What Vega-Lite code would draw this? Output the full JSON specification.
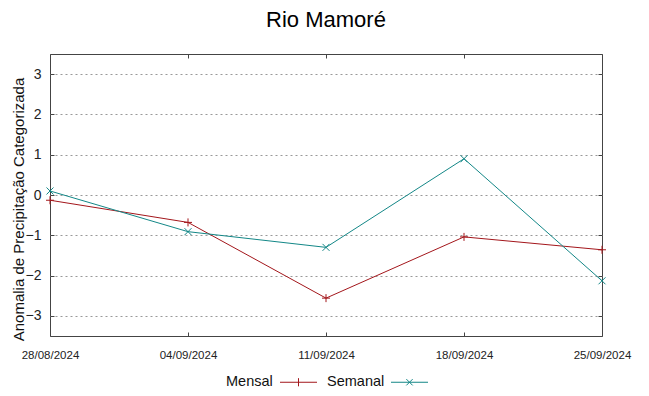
{
  "$schema": "https://vega.github.io/schema/vega-lite/v6.json",
  "width": 552,
  "height": 282,
  "autosize": {"type": "none"},
  "padding": {"left": 50, "top": 54, "right": 47, "bottom": 60},
  "background": "white",
  "config": {
    "font": "Liberation Sans",
    "view": {"stroke": "#444", "strokeWidth": 1}
  },
  "title": {
    "text": "Rio Mamoré",
    "fontSize": 22,
    "font": "Liberation Sans",
    "fontWeight": "normal",
    "color": "#000",
    "anchor": "middle",
    "baseline": "alphabetic",
    "offset": 5
  },
  "data": {
    "values": [
      {"date": "28/08/2024", "serie": "Mensal", "v": -0.13},
      {"date": "04/09/2024", "serie": "Mensal", "v": -0.68},
      {"date": "11/09/2024", "serie": "Mensal", "v": -2.56},
      {"date": "18/09/2024", "serie": "Mensal", "v": -1.04},
      {"date": "25/09/2024", "serie": "Mensal", "v": -1.36},
      {"date": "28/08/2024", "serie": "Semanal", "v": 0.1},
      {"date": "04/09/2024", "serie": "Semanal", "v": -0.91},
      {"date": "11/09/2024", "serie": "Semanal", "v": -1.3},
      {"date": "18/09/2024", "serie": "Semanal", "v": 0.9},
      {"date": "25/09/2024", "serie": "Semanal", "v": -2.13}
    ]
  },
  "resolve": {"axis": {"y": "independent", "x": "independent"}},
  "layer": [
    {
      "mark": {"type": "line", "strokeWidth": 1, "clip": true},
      "encoding": {
        "x": {
          "field": "date", "type": "ordinal", "sort": null,
          "scale": {"type": "point", "padding": 0},
          "axis": {
            "title": null, "labelAngle": 0, "labelFontSize": 11.5, "labelColor": "#222",
            "tickSize": -4, "tickColor": "#444", "domain": false, "labelPadding": 17,
            "grid": false
          }
        },
        "y": {
          "field": "v", "type": "quantitative",
          "scale": {"domain": [-3.5, 3.5], "nice": false, "zero": false},
          "axis": {
            "values": [-3, -2, -1, 0, 1, 2, 3],
            "title": "Anomalia de Precipitação Categorizada",
            "titleFontSize": 15, "titleFontWeight": "normal", "titleColor": "#111",
            "titleX": -32, "titleY": 155, "titleAngle": -90, "titleAlign": "center", "titleBaseline": "middle",
            "labelFontSize": 14, "labelColor": "#222", "labelPadding": 13,
            "tickSize": -4, "tickColor": "#444", "domain": false,
            "grid": true, "gridColor": "#999", "gridDash": [2, 3], "gridWidth": 1
          }
        },
        "color": {
          "field": "serie", "type": "nominal",
          "scale": {"domain": ["Mensal", "Semanal"], "range": ["#a3161b", "#138787"]},
          "legend": {
            "orient": "none", "legendX": 176, "legendY": 309,
            "direction": "horizontal", "title": null,
            "labelFontSize": 14.5, "labelColor": "#111",
            "columnPadding": 8, "symbolSize": 1369, "symbolStrokeWidth": 1,
            "encode": {
              "labels": {"update": {"x": {"value": 0}, "align": {"value": "left"}}},
              "symbols": {"update": {
                "x": {"signal": "datum.label == 'Mensal' ? 72.5 : 82.5"},
                "fill": {"value": "transparent"},
                "size": {"value": 1369},
                "shape": {"signal": "datum.label == 'Mensal' ? 'M -1 0 L 1 0 M 0 -0.22 L 0 0.22' : 'M -1 0 L 1 0 M -0.17 -0.17 L 0.17 0.17 M -0.17 0.17 L 0.17 -0.17'"}
              }}
            }
          }
        }
      }
    },
    {
      "transform": [{"filter": "datum.serie == 'Mensal'"}],
      "mark": {"type": "point", "filled": false, "strokeWidth": 1, "size": 64, "opacity": 1, "color": "#a3161b", "shape": "M -1 0 L 1 0 M 0 -1 L 0 1"},
      "encoding": {
        "x": {
          "field": "date", "type": "ordinal", "sort": null,
          "scale": {"type": "point", "padding": 0},
          "axis": {"orient": "top", "labels": false, "title": null, "tickSize": -4, "tickColor": "#444", "domain": false, "grid": false}
        },
        "y": {
          "field": "v", "type": "quantitative",
          "scale": {"domain": [-3.5, 3.5], "nice": false, "zero": false},
          "axis": {"orient": "right", "values": [-3, -2, -1, 0, 1, 2, 3], "labels": false, "title": null, "tickSize": -4, "tickColor": "#444", "domain": false, "grid": false}
        }
      }
    },
    {
      "transform": [{"filter": "datum.serie == 'Semanal'"}],
      "mark": {"type": "point", "filled": false, "strokeWidth": 1, "size": 49, "opacity": 1, "color": "#138787", "shape": "M -1 -1 L 1 1 M -1 1 L 1 -1"},
      "encoding": {
        "x": {"field": "date", "type": "ordinal", "sort": null, "scale": {"type": "point", "padding": 0}, "axis": null},
        "y": {"field": "v", "type": "quantitative", "scale": {"domain": [-3.5, 3.5], "nice": false, "zero": false}, "axis": null}
      }
    }
  ]
}
